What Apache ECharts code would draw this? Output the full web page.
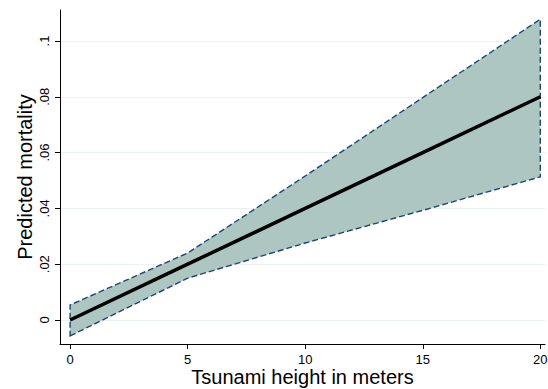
<!DOCTYPE html>
<html>
<head>
<meta charset="utf-8">
<script src="https://cdn.jsdelivr.net/npm/echarts@6/dist/echarts.min.js"></script>
<style>html,body{margin:0;padding:0;background:#fff;}#c{width:548px;height:389px;}</style>
</head>
<body>
<div id="c"></div>
<script>
var heights = [0, 5, 10, 15, 20];
var predicted = [0, 0.02, 0.04, 0.06, 0.08];
var upper = [0.0054, 0.0240, 0.0516, 0.0797, 0.1078];
var lower = [-0.0057, 0.0150, 0.0276, 0.0393, 0.0513];
var xTicks = [0, 5, 10, 15, 20];
var yTicks = [0, 0.02, 0.04, 0.06, 0.08, 0.1];
var xTitle = 'Tsunami height in meters';
var yTitle = 'Predicted mortality';

var font = '"Liberation Sans", Arial, sans-serif';
function fmtY(v) {
  var s = String(Math.round(v * 1000) / 1000);
  return s.replace(/^0\./, '.').replace(/^-0\./, '-.');
}

var band = [];
for (var i = 0; i < heights.length; i++) band.push([heights[i], lower[i]]);
for (var j = heights.length - 1; j >= 0; j--) band.push([heights[j], upper[j]]);

var chart = echarts.init(document.getElementById('c'), null, {renderer: 'svg'});
chart.setOption({
  animation: false,
  backgroundColor: '#ffffff',
  grid: {left: 60, right: 3, top: 10, bottom: 45, containLabel: false, outerBoundsMode: 'none'},
  xAxis: {
    type: 'value', min: -0.43, max: 20.2,
    name: xTitle, nameLocation: 'middle', nameGap: 23, nameMoveOverlap: false,
    nameTextStyle: {fontFamily: font, fontSize: 20, color: '#000'},
    axisLine: {show: true, onZero: false, lineStyle: {color: '#000', width: 1}},
    axisTick: {show: true, length: 5, customValues: xTicks, lineStyle: {color: '#000'}},
    axisLabel: {customValues: xTicks, margin: 9, fontFamily: font, fontSize: 13, color: '#000'},
    splitLine: {show: false}
  },
  yAxis: {
    type: 'value', min: -0.0086, max: 0.1111,
    name: yTitle, nameLocation: 'middle', nameGap: 25, nameMoveOverlap: false,
    nameTextStyle: {fontFamily: font, fontSize: 20, color: '#000'},
    axisLine: {show: true, onZero: false, lineStyle: {color: '#000', width: 1}},
    axisTick: {show: true, length: 5, customValues: yTicks, lineStyle: {color: '#000'}},
    axisLabel: {customValues: yTicks, rotate: 90, margin: 9, fontFamily: font, fontSize: 13, color: '#000', formatter: fmtY},
    splitLine: {show: true, lineStyle: {color: '#eaf2f3', width: 1}}
  },
  series: [
    {
      type: 'custom',
      coordinateSystem: 'cartesian2d',
      data: [0],
      silent: true,
      renderItem: function (params, api) {
        var pts = band.map(function (p) { return api.coord(p); });
        return {
          type: 'polygon',
          shape: {points: pts},
          style: {fill: '#aec6c1', stroke: '#1a476f', lineWidth: 1.4, lineDash: [6, 3]}
        };
      },
      z: 2
    },
    {
      type: 'line',
      data: heights.map(function (h, k) { return [h, predicted[k]]; }),
      symbol: 'none',
      lineStyle: {color: '#000', width: 3.5},
      z: 3
    }
  ]
});
</script>
</body>
</html>
